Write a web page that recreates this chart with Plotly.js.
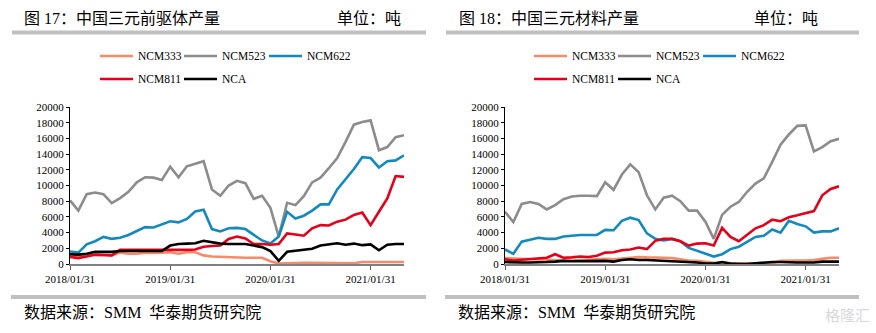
<!DOCTYPE html>
<html>
<head>
<meta charset="utf-8">
<script src="https://cdn.plot.ly/plotly-3.0.1.min.js"></script>
<style>html,body{margin:0;padding:0;background:#fff;}#chart{width:876px;height:333px;}</style>
</head>
<body>
<div id="chart"></div>
<script>
// Month-end categories (2018/01/31 – 2021/05/31)
const months = [
 '2018/01/31','2018/02/28','2018/03/31','2018/04/30','2018/05/31','2018/06/30','2018/07/31','2018/08/31','2018/09/30','2018/10/31','2018/11/30','2018/12/31',
 '2019/01/31','2019/02/28','2019/03/31','2019/04/30','2019/05/31','2019/06/30','2019/07/31','2019/08/31','2019/09/30','2019/10/31','2019/11/30','2019/12/31',
 '2020/01/31','2020/02/29','2020/03/31','2020/04/30','2020/05/31','2020/06/30','2020/07/31','2020/08/31','2020/09/30','2020/10/31','2020/11/30','2020/12/31',
 '2021/01/31','2021/02/28','2021/03/31','2021/04/30','2021/05/31'
];
const tickLabels = ['2018/01/31','2019/01/31','2020/01/31','2021/01/31'];
const seriesNames = ['NCM333','NCM523','NCM622','NCM811','NCA'];

// Figure 17: precursor output (tons)
const pre_NCM333 = [1000,1000,1100,1150,1150,1100,1450,1300,1300,1450,1400,1450,1500,1300,1500,1500,1100,950,900,900,850,800,800,800,350,50,100,150,150,150,150,150,150,150,100,250,250,250,250,250,250];
const pre_NCM523 = [8100,6800,8900,9100,8900,7750,8400,9200,10400,11050,11000,10700,12400,11050,12450,12800,13100,9500,8700,10000,10600,10300,8300,8700,7150,3500,7800,7500,8650,10400,11000,12200,13500,15550,17750,18100,18300,14500,14900,16150,16400];
const pre_NCM622 = [1600,1450,2500,2900,3450,3200,3350,3700,4200,4700,4650,5100,5450,5300,5750,6700,6900,4450,4150,4550,4600,4450,3750,3000,2600,3500,6650,5800,6150,6800,7600,7600,9500,10800,12100,13600,13500,12300,13100,13200,13850];
const pre_NCM811 = [900,750,950,1200,1150,1100,1800,1800,1800,1800,1800,1780,1780,1750,1800,1850,2200,2300,2350,3200,3500,3250,2550,2550,2450,2550,3900,3750,3600,4550,4950,4900,5400,5650,6250,6550,4950,6650,8350,11200,11100];
const pre_NCA    = [1250,1200,1300,1550,1550,1550,1650,1650,1650,1650,1650,1650,2350,2550,2600,2650,2950,2800,2600,2550,2550,2550,2350,2150,1650,400,1550,1700,1850,1950,2350,2500,2650,2450,2600,2400,2500,1750,2450,2550,2550];

// Figure 18: cathode material output (tons)
const mat_NCM333 = [750,700,650,600,600,550,500,450,450,500,550,600,650,600,700,850,900,850,850,800,750,600,450,400,250,150,100,100,50,50,50,50,100,400,450,450,450,500,650,800,800];
const mat_NCM523 = [6650,5350,7650,7900,7650,6950,7500,8250,8600,8700,8700,8650,10400,9450,11400,12700,11700,8750,6950,8450,8700,8000,6800,6800,5400,3200,6250,7300,7900,9200,10250,10900,13000,15200,16500,17600,17650,14350,14900,15650,15950];
const mat_NCM622 = [1850,1300,2850,3100,3350,3200,3200,3500,3600,3700,3700,3700,4350,4300,5500,5900,5600,3900,3200,3000,3200,2900,2050,1700,1400,950,1250,1900,2200,2800,3450,3600,4400,4000,5500,5100,4800,4000,4150,4150,4550];
const mat_NCM811 = [600,450,550,650,700,800,1250,800,850,950,900,1050,1450,1500,1750,1850,2100,1900,2950,3200,3200,2900,2350,2600,2650,2350,4600,3450,2900,3750,4550,4950,5650,5450,5950,6200,6500,6750,8750,9550,9900];
const mat_NCA    = [250,200,200,200,200,250,300,400,350,350,400,400,400,300,500,600,500,500,450,400,400,350,300,200,50,50,250,50,0,0,100,200,250,250,200,200,200,200,300,300,300];

const colors = ['#F28C6A','#8C8C8C','#1589BE','#E2001A','#000000'];

const W = 876, H = 333;
const px = x => x / W;
const py = y => 1 - y / H;

const serif = 'Liberation Serif, Times New Roman, Noto Sans CJK SC, serif';
const cjk = 'Liberation Serif, Noto Sans CJK SC, sans-serif';

const preSeries = [pre_NCM333, pre_NCM523, pre_NCM622, pre_NCM811, pre_NCA];
const matSeries = [mat_NCM333, mat_NCM523, mat_NCM622, mat_NCM811, mat_NCA];

const traces = [];
preSeries.forEach((s, i) => traces.push({
  x: months, y: s, name: seriesNames[i], type: 'scatter', mode: 'lines',
  line: {color: colors[i], width: 2.6}, xaxis: 'x', yaxis: 'y', showlegend: false, hoverinfo: 'skip'
}));
matSeries.forEach((s, i) => traces.push({
  x: months, y: s, name: seriesNames[i], type: 'scatter', mode: 'lines',
  line: {color: colors[i], width: 2.6}, xaxis: 'x2', yaxis: 'y2', showlegend: false, hoverinfo: 'skip'
}));

const yDomain = [py(264), py(107)];
const xAxisCommon = {
  type: 'category', range: [0, months.length - 1], tickmode: 'array',
  tickvals: tickLabels.map(t => months.indexOf(t)), ticktext: tickLabels,
  showgrid: false, zeroline: false, showline: true, linecolor: '#808080', linewidth: 1.5,
  ticks: 'outside', ticklen: 4, tickcolor: '#606060', tickfont: {family: serif, size: 11, color: '#000'}
};
const yAxisCommon = {
  range: [0, 20000], dtick: 2000, tick0: 0, showgrid: false, zeroline: false,
  showline: true, linecolor: '#000', linewidth: 1, ticks: 'outside', ticklen: 3, tickcolor: '#000',
  tickfont: {family: serif, size: 11, color: '#000'}, tickformat: 'd'
};

const shapes = [], annotations = [];
// header/footer bars
[[12, 426], [446, 859]].forEach(([a, b]) => {
  shapes.push({type: 'rect', xref: 'paper', yref: 'paper', x0: px(a), x1: px(b), y0: py(34.5), y1: py(30.5), fillcolor: '#C0C0C0', line: {width: 0}});
  shapes.push({type: 'rect', xref: 'paper', yref: 'paper', x0: px(a - 1), x1: px(b), y0: py(299), y1: py(295), fillcolor: '#C0C0C0', line: {width: 0}});
});

// custom legends
function legend(offsetX) {
  const slots = [[100, 56], [184, 56], [269, 56], [100, 79], [184, 79]];
  seriesNames.forEach((n, i) => {
    const [lx, ly] = slots[i];
    shapes.push({type: 'line', xref: 'paper', yref: 'paper', x0: px(lx + offsetX), x1: px(lx + offsetX + 33), y0: py(ly), y1: py(ly), line: {color: colors[i], width: 2.6}});
    annotations.push({xref: 'paper', yref: 'paper', x: px(lx + offsetX + 35.5), y: py(ly), xanchor: 'left', yanchor: 'middle', text: n, showarrow: false, font: {family: serif, size: 11.5, color: '#000'}});
  });
}
legend(0);
legend(434);

function text(t, x, y, size, anchor) {
  annotations.push({xref: 'paper', yref: 'paper', x: px(x), y: py(y), xanchor: anchor || 'left', yanchor: 'middle', text: t, showarrow: false, font: {family: cjk, size: size, color: '#000'}});
}
text('图 17：中国三元前驱体产量', 22, 18, 16);
text('单位：吨', 335, 18, 16);
text('图 18：中国三元材料产量', 457, 18, 16);
text('单位：吨', 752, 18, 16);
text('数据来源：SMM  华泰期货研究院', 22, 312, 16);
text('数据来源：SMM  华泰期货研究院', 456, 312, 16);
annotations.push({xref: 'paper', yref: 'paper', x: px(872), y: py(314), xanchor: 'right', yanchor: 'middle', text: '格隆汇', showarrow: false, font: {family: 'Noto Sans CJK SC', size: 15, color: '#D8D8D8'}});

const layout = {
  width: W, height: H, margin: {l: 0, r: 0, t: 0, b: 0},
  paper_bgcolor: '#fff', plot_bgcolor: '#fff', showlegend: false,
  xaxis: Object.assign({}, xAxisCommon, {domain: [px(70), px(404)], anchor: 'y'}),
  yaxis: Object.assign({}, yAxisCommon, {domain: yDomain, anchor: 'x'}),
  xaxis2: Object.assign({}, xAxisCommon, {domain: [px(505), px(839)], anchor: 'y2'}),
  yaxis2: Object.assign({}, yAxisCommon, {domain: yDomain, anchor: 'x2'}),
  shapes: shapes, annotations: annotations
};

Plotly.newPlot('chart', traces, layout, {displayModeBar: false, staticPlot: true});
</script>
</body>
</html>
